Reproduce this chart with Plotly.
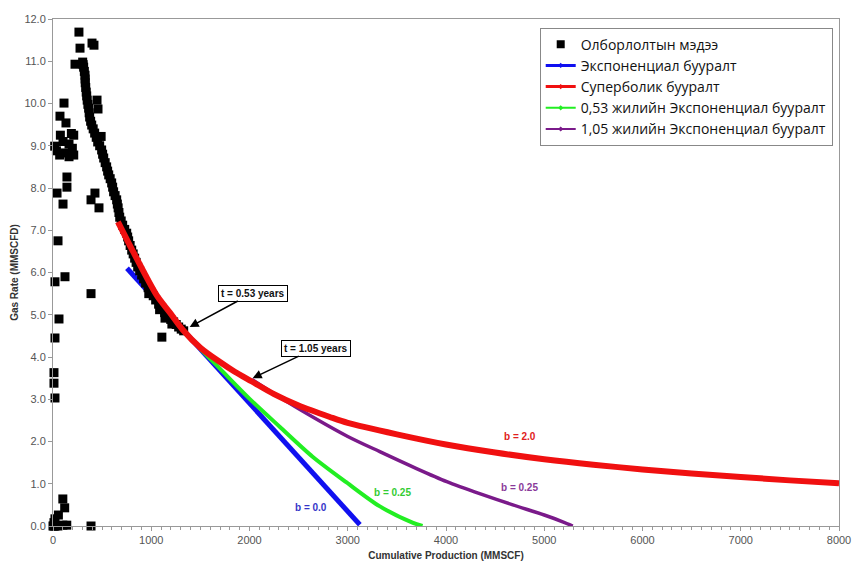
import plotly.graph_objects as go

# --- Production data (cumulative MMSCF, rate MMSCFD) ---
prod_x = [
    0, 10, 20, 50, 100, 140, 10, 20, 55, 100, 119,
    20, 10, 10, 20, 61, 122, 20, 51, 102, 41, 142, 142,
    17, 35, 75, 102, 163, 187, 211, 197, 211, 163, 119, 68, 112, 71, 132,
    264, 275, 397, 417, 224, 448, 458, 490, 427, 387, 468, 387, 387, 1108,
    302, 312, 326, 328, 338, 348, 363, 373, 394, 424, 455, 495, 516, 546,
    567, 597, 617, 648, 663, 679, 709, 750, 770, 801, 831, 862, 902, 943,
    994, 1045, 1106, 1167, 1228, 1279, 1330,
    307, 319, 327, 333, 343, 355, 368, 383, 409, 440, 475, 505, 531, 556,
    582, 607, 632, 655, 671, 694, 730, 760, 785, 816, 846, 882, 922, 968,
    1020, 1075, 1136, 1198, 1254, 1305, 975, 1085, 1140, 1210,
]
prod_y = [
    0.0, 0.0, 0.0, 0.0, 0.02, 0.02, 0.08, 0.17, 0.26, 0.64, 0.43,
    3.03, 3.38, 3.63, 4.45, 4.90, 5.90, 5.78, 6.75, 7.62, 7.88, 8.02, 8.26,
    8.99, 8.88, 9.25, 9.10, 9.04, 9.29, 9.25, 8.94, 8.78, 8.74, 8.83, 8.78, 10.01, 9.70, 9.54,
    11.69, 11.31, 11.43, 11.38, 10.93, 10.08, 9.87, 9.22, 7.88, 7.72, 7.53, 5.50, 0.0, 4.47,
    10.98, 10.86, 10.67, 10.49, 10.27, 10.08, 9.89, 9.68, 9.49, 9.30, 9.09, 8.90, 8.71, 8.50,
    8.31, 8.12, 7.91, 7.72, 7.53, 7.31, 7.12, 6.93, 6.75, 6.53, 6.34, 6.13, 5.94, 5.75,
    5.54, 5.35, 5.16, 4.95, 4.83, 4.71, 4.62,
    10.92, 10.76, 10.58, 10.38, 10.18, 9.98, 9.78, 9.58, 9.40, 9.20, 9.00, 8.80, 8.60, 8.40,
    8.22, 8.02, 7.82, 7.62, 7.42, 7.22, 7.02, 6.84, 6.64, 6.44, 6.24, 6.04, 5.85, 5.64,
    5.45, 5.25, 5.05, 4.89, 4.77, 4.66, 5.50, 5.12, 4.92, 4.78,
]

# --- Exponential decline (b = 0.0) ---
exp_x = [753, 1000, 1322, 2000, 2500, 3123]
exp_y = [6.10, 5.47, 4.64, 2.91, 1.63, 0.03]

# --- Hyperbolic decline (b = 2.0) ---
hyp_x = [661, 814, 1058, 1190, 1322, 1500, 1700, 1850, 2024, 2250, 2500, 2818,
         3000, 3500, 4000, 4500, 5000, 5500, 6000, 6500, 7000, 7500, 8000]
hyp_y = [7.20, 6.50, 5.45, 5.05, 4.64, 4.22, 3.88, 3.65, 3.42, 3.12, 2.85, 2.58,
         2.44, 2.17, 1.93, 1.74, 1.58, 1.45, 1.34, 1.24, 1.16, 1.08, 1.01]

# --- Decline switched at t = 0.53 years (b = 0.25) ---
sw053_x = [1322, 1500, 1696, 2001, 2307, 2642, 2988, 3323, 3659, 3761]
sw053_y = [4.64, 4.19, 3.73, 3.01, 2.35, 1.64, 1.03, 0.47, 0.08, 0.0]

# --- Decline switched at t = 1.05 years (b = 0.25) ---
sw105_x = [2024, 2300, 2600, 3000, 3326, 3700, 4008, 4350, 4680, 5000, 5188, 5290]
sw105_y = [3.47, 3.06, 2.64, 2.12, 1.76, 1.36, 1.05, 0.76, 0.50, 0.26, 0.10, 0.0]

names = [
    "Олборлолтын мэдээ",
    "Экспоненциал бууралт",
    "Суперболик бууралт",
    "0,53 жилийн Экспоненциал бууралт",
    "1,05 жилийн Экспоненциал бууралт",
]

BLUE = "#1010f0"
RED = "#f01010"
GREEN = "#22ee22"
PURPLE = "#7a1a8a"

fig = go.Figure()

# curves (drawn without legend entries; legend swatches are added below)
fig.add_trace(go.Scatter(x=exp_x, y=exp_y, mode="lines", line=dict(color=BLUE, width=5),
                         showlegend=False, cliponaxis=False))
fig.add_trace(go.Scatter(x=sw105_x, y=sw105_y, mode="lines",
                         line=dict(color=PURPLE, width=3.5, shape="spline", smoothing=0.8),
                         showlegend=False, cliponaxis=False))
fig.add_trace(go.Scatter(x=sw053_x, y=sw053_y, mode="lines",
                         line=dict(color=GREEN, width=4, shape="spline", smoothing=0.8),
                         showlegend=False, cliponaxis=False))
fig.add_trace(go.Scatter(x=prod_x, y=prod_y, mode="markers",
                         marker=dict(symbol="square", size=9, color="black"),
                         showlegend=False, cliponaxis=False))
fig.add_trace(go.Scatter(x=hyp_x, y=hyp_y, mode="lines",
                         line=dict(color=RED, width=6, shape="spline", smoothing=0.8),
                         showlegend=False, cliponaxis=False))

# legend entries
fig.add_trace(go.Scatter(x=[None], y=[None], mode="markers", name=names[0],
                         marker=dict(symbol="square", size=8, color="black")))
for nm, col, w in [(names[1], BLUE, 3), (names[2], RED, 3), (names[3], GREEN, 2), (names[4], PURPLE, 2)]:
    fig.add_trace(go.Scatter(x=[None], y=[None], mode="lines+markers", name=nm,
                             line=dict(color=col, width=w),
                             marker=dict(color=col, size=4, symbol="diamond")))

tick_font = dict(family="Liberation Sans, Arial", size=11, color="#555555")
title_font = dict(family="Liberation Sans, Arial", size=10, color="#333333")

fig.update_layout(
    width=852, height=563,
    margin=dict(l=53, r=13, t=19, b=37, autoexpand=False),
    paper_bgcolor="white", plot_bgcolor="white",
    legend=dict(
        x=0.992, y=0.983, xanchor="right", yanchor="top",
        bgcolor="white", bordercolor="#888888", borderwidth=1,
        font=dict(family="Open Sans", size=14, color="#111111"),
        tracegroupgap=0, itemwidth=30,
    ),
    xaxis=dict(
        range=[0, 8000], tickvals=[0, 1000, 2000, 3000, 4000, 5000, 6000, 7000, 8000],
        showgrid=False, zeroline=False, showline=True, linecolor="#999999", linewidth=1,
        mirror=True, ticks="outside", ticklen=4, tickcolor="#999999",
        minor=dict(dtick=100, ticks="outside", ticklen=3, tickcolor="#999999"),
        tickfont=tick_font, automargin=False,
        title=dict(text="<b>Cumulative Production (MMSCF)</b>", font=title_font, standoff=6),
    ),
    yaxis=dict(
        range=[0, 12], dtick=1, tickformat=".1f",
        showgrid=False, zeroline=False, showline=True, linecolor="#999999", linewidth=1,
        mirror=True, ticks="outside", ticklen=4, tickcolor="#999999",
        tickfont=tick_font, automargin=False,
        title=dict(text="<b>Gas Rate (MMSCFD)</b>", font=title_font, standoff=3),
    ),
)

box_font = dict(family="Liberation Sans, Arial", size=10, color="#111111")
for txt, hx, hy, ax, ay in [("t = 0.53 years", 1391, 4.71, 63, -34),
                            ("t = 1.05 years", 2032, 3.50, 63, -30)]:
    fig.add_annotation(x=hx, y=hy, xref="x", yref="y", text=f"<b>{txt}</b>",
                       showarrow=True, arrowhead=2, arrowsize=1.2, arrowwidth=1.5,
                       arrowcolor="black", ax=ax, ay=ay,
                       bordercolor="black", borderwidth=1, borderpad=2,
                       bgcolor="white", font=box_font)

for txt, lx, ly, col in [("b = 0.0", 2624, 0.43, "#3535c8"),
                         ("b = 0.25", 3459, 0.80, "#33cc33"),
                         ("b = 0.25", 4751, 0.90, "#8a3a9a"),
                         ("b = 2.0", 4751, 2.13, "#e02020")]:
    fig.add_annotation(x=lx, y=ly, xref="x", yref="y", text=f"<b>{txt}</b>",
                       showarrow=False, font=dict(family="Liberation Sans, Arial", size=10, color=col))

fig.write_html("out.html")
